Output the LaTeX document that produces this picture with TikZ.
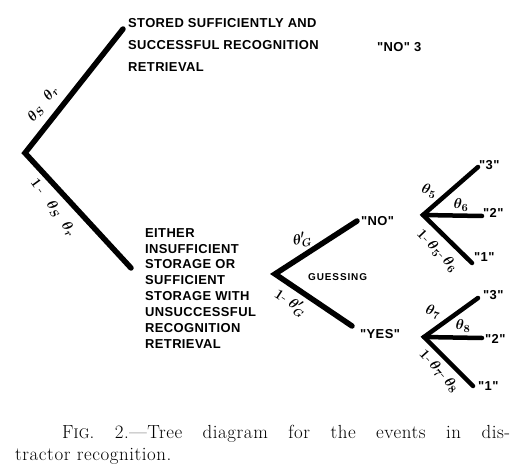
\documentclass[tikz,border=0pt]{standalone}
\usepackage{fontspec}
\newfontfamily\lettering[LetterSpace=3]{Liberation Sans}
\newfontfamily\smallletter[LetterSpace=9]{Liberation Sans}
\newfontfamily\capfont[Ligatures=TeX, LetterSpace=3]{Latin Modern Roman}
\newcommand{\hy}{\mbox{-}}
\begin{document}
\begin{tikzpicture}[x=1bp,y=-1bp,
  branch/.style={line width=5.5bp, line cap=round},
  twig/.style={line width=4.5bp, line cap=round},
  lbl/.style={font=\lettering\bfseries\fontsize{13}{22}\selectfont, inner sep=0, align=left},
  lbllow/.style={lbl, font=\lettering\bfseries\fontsize{13}{16}\selectfont},
  small/.style={font=\smallletter\bfseries\fontsize{10}{10}\selectfont, inner sep=0},
  prob/.style={font=\fontsize{15}{15}\selectfont\boldmath, inner sep=0},
  caption/.style={font=\capfont\fontsize{19}{22}\selectfont, inner sep=0, anchor=base west}]
\useasboundingbox (0,0) rectangle (531,473);
% main tree
\coordinate (r) at (25,153);
\coordinate (s) at (123,29);
\coordinate (e) at (131,268);
\draw[branch] (s) -- (r) -- (e);
\node[lbl, anchor=north west] (stored) at (128,18) {STORED SUFFICIENTLY AND\\SUCCESSFUL RECOGNITION\\RETRIEVAL};
\node[lbl, anchor=base west] (no3) at (377,52) {"NO" 3};
\node[lbllow, anchor=north west] (either) at (145,228) {EITHER\\INSUFFICIENT\\STORAGE OR\\SUFFICIENT\\STORAGE WITH\\UNSUCCESSFUL\\RECOGNITION\\RETRIEVAL};
\node[prob, rotate=52] (p1) at (43,104) {$\theta_S\;\;\theta_r$};
\node[prob, rotate=-54] (p2) at (53,208) {$1\,\hy\;\;\,\theta_S\;\;\theta_r$};
% guessing tree
\coordinate (g) at (275,274);
\coordinate (gn) at (357,221);
\coordinate (gy) at (352,326);
\draw[branch] (gn) -- (g) -- (gy);
\node[lbl, anchor=west] (no) at (361,221) {"NO"};
\node[lbl, anchor=west] (yes) at (360,334) {"YES"};
\node[small, anchor=west] (guess) at (308,277) {GUESSING};
\node[prob, rotate=12] (pg1) at (302,240) {$\theta_G'$};
\node[prob, rotate=-33] (pg2) at (290,303) {$1\hy\;\theta_G'$};
% upper small tree
\coordinate (t) at (423,215);
\coordinate (t3) at (478,167);
\coordinate (t2) at (482,216);
\coordinate (t1) at (472,263);
\draw[twig] (t3) -- (t) -- (t1);
\draw[twig] (t) -- (t2);
\node[lbl, anchor=west] (a3) at (479,165) {"3"};
\node[lbl, anchor=west] (a2) at (483,213) {"2"};
\node[lbl, anchor=west] (a1) at (474,257) {"1"};
\node[prob, rotate=-15] (q5) at (429,191) {$\theta_5$};
\node[prob] (q6) at (461,205) {$\theta_6$};
\node[prob, rotate=-46] (q56) at (437,251) {$1\hy\,\theta_5\hy\,\theta_6$};
% lower small tree
\coordinate (u) at (424,337);
\coordinate (u3) at (478,298);
\coordinate (u2) at (482,338);
\coordinate (u1) at (473,386);
\draw[twig] (u3) -- (u) -- (u1);
\draw[twig] (u) -- (u2);
\node[lbl, anchor=west] (b3) at (483,295) {"3"};
\node[lbl, anchor=west] (b2) at (485,339) {"2"};
\node[lbl, anchor=west] (b1) at (478,386) {"1"};
\node[prob, rotate=-15] (q7) at (433,312) {$\theta_7$};
\node[prob] (q8) at (463,326) {$\theta_8$};
\node[prob, rotate=-48] (q78) at (439,371) {$1\hy\,\theta_7\hy\,\theta_8$};
% caption
\node[caption] (cap1) at (62,438) {\makebox[448bp][s]{F{\fontsize{14}{14}\selectfont IG}. 2.---Tree diagram for the events in dis-}};
\node[caption] (cap2) at (15,460) {tractor recognition.};
\end{tikzpicture}
\end{document}
